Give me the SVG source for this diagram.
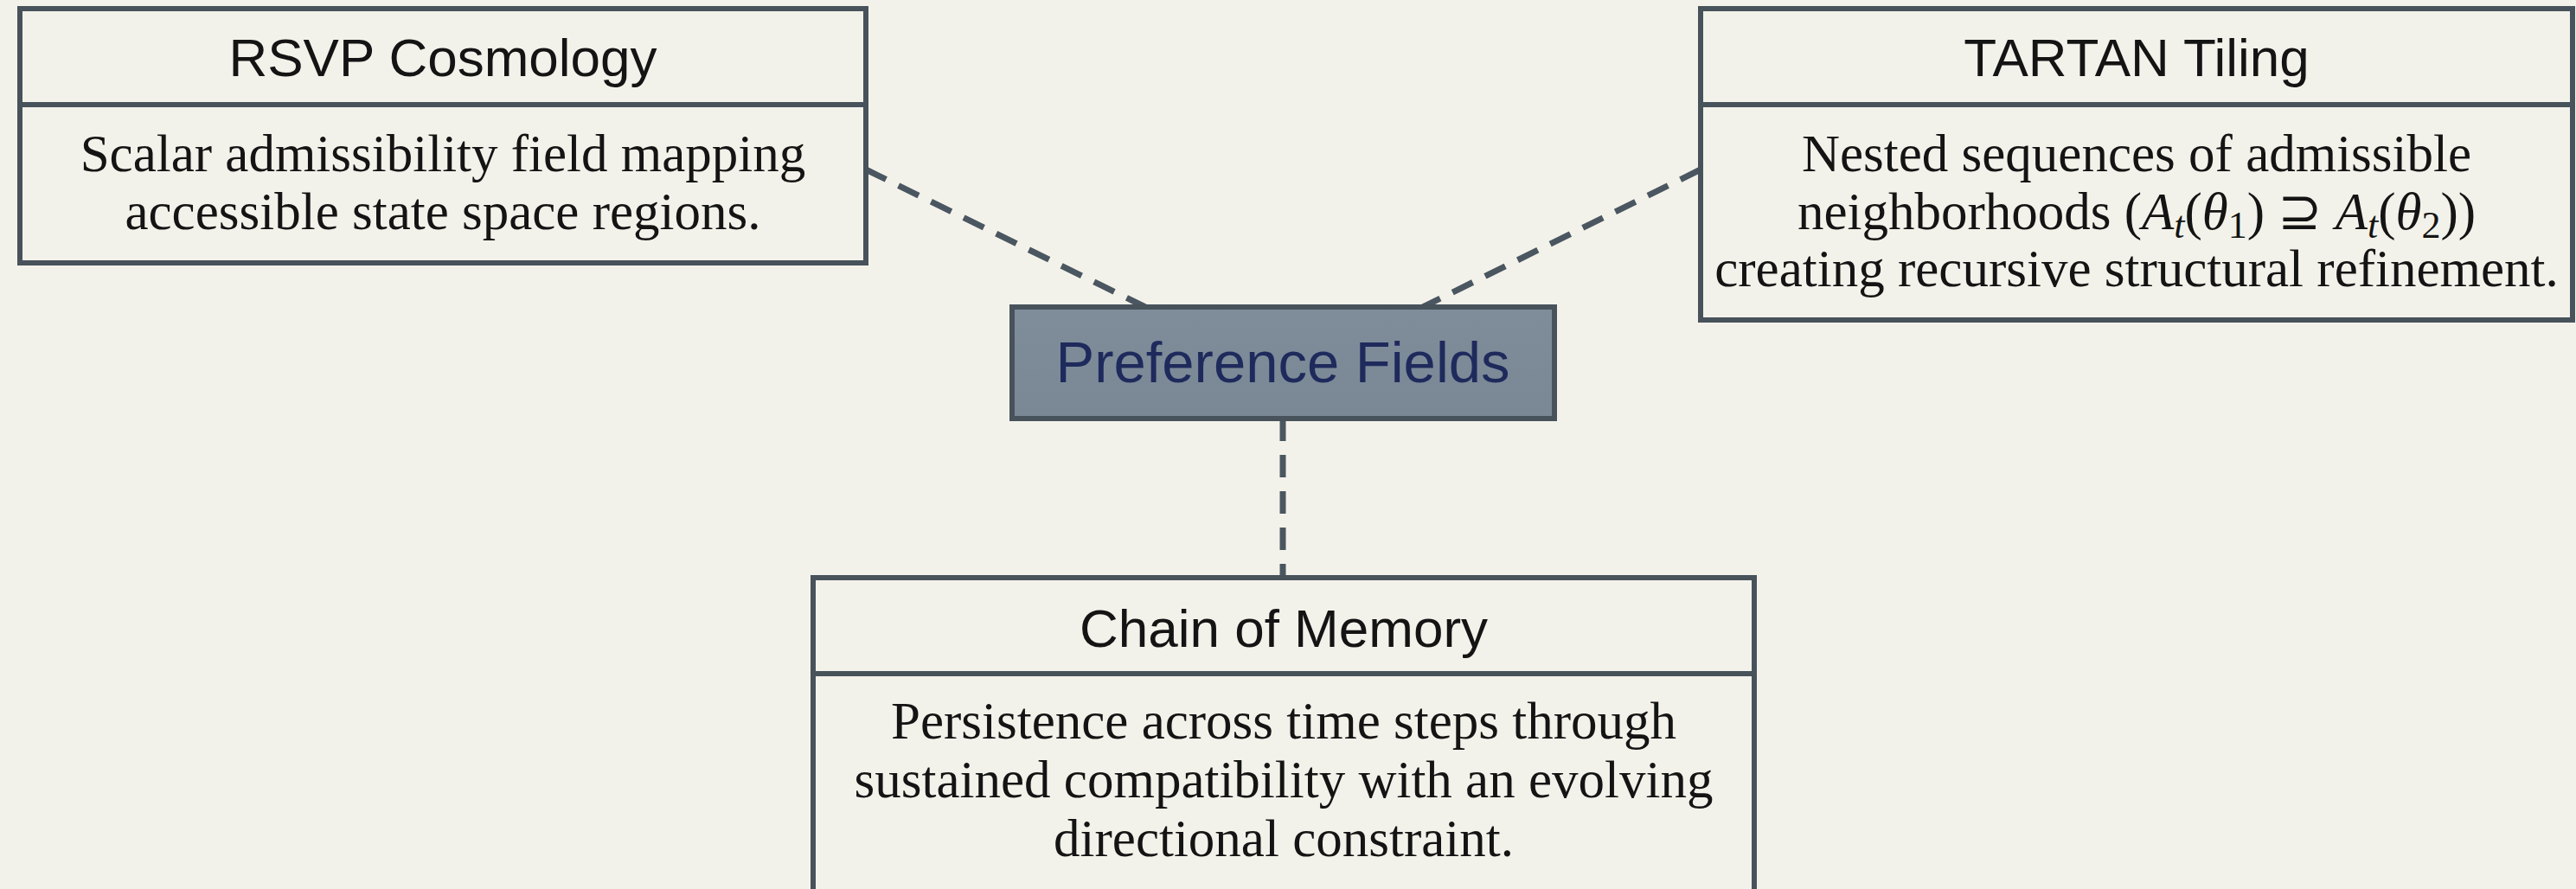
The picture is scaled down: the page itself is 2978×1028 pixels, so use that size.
<svg xmlns="http://www.w3.org/2000/svg" width="2978" height="1028" viewBox="0 0 2978 1028">
<defs>
<style>
.box{fill:#f3f2ea;stroke:#47525b;stroke-width:6}
.div{stroke:#47525b;stroke-width:6}
.title{font-family:"Liberation Sans",Arial,sans-serif;font-size:62px;fill:#141414;text-anchor:middle}
.body{font-family:"Liberation Serif","Times New Roman",serif;font-size:61px;fill:#141414;text-anchor:middle}
.conn{stroke:#4a5660;stroke-width:7;stroke-dasharray:26 16;fill:none}
</style>
<linearGradient id="cg" x1="0" y1="0" x2="0" y2="1">
<stop offset="0" stop-color="#7f8d9b"/>
<stop offset="1" stop-color="#7a8896"/>
</linearGradient>
</defs>
<rect x="0" y="0" width="2978" height="1028" fill="#f3f2ea"/>
<g id="connectors">
<line class="conn" x1="1001" y1="196" x2="1324" y2="355"/>
<line class="conn" x1="1966" y1="196" x2="1645" y2="355"/>
<line class="conn" x1="1483" y1="484" x2="1483" y2="668"/>
</g>
<g id="rsvp">
<rect class="box" x="23" y="10" width="978" height="294"/>
<line class="div" x1="23" y1="121" x2="1001" y2="121"/>
<text class="title" x="512" y="88">RSVP Cosmology</text>
<text class="body" x="512" y="198">Scalar admissibility field mapping</text>
<text class="body" x="512" y="265">accessible state space regions.</text>
</g>
<g id="tartan">
<rect class="box" x="1966" y="10" width="1008" height="360"/>
<line class="div" x1="1966" y1="121" x2="2974" y2="121"/>
<text class="title" x="2470" y="88">TARTAN Tiling</text>
<text class="body" x="2470" y="198">Nested sequences of admissible</text>
<text class="body" x="2470" y="265">neighborhoods (<tspan font-style="italic">A</tspan><tspan font-style="italic" font-size="44" dy="10">t</tspan><tspan dy="-10">(</tspan><tspan font-style="italic">θ</tspan><tspan font-size="44" dy="10">1</tspan><tspan dy="-10">) ⊇ </tspan><tspan font-style="italic">A</tspan><tspan font-style="italic" font-size="44" dy="10">t</tspan><tspan dy="-10">(</tspan><tspan font-style="italic">θ</tspan><tspan font-size="44" dy="10">2</tspan><tspan dy="-10">))</tspan></text>
<text class="body" x="2470" y="331">creating recursive structural refinement.</text>
</g>
<g id="preference">
<rect x="1170" y="355" width="627" height="129" fill="url(#cg)" stroke="#47525b" stroke-width="6"/>
<text x="1483" y="442" font-family="Liberation Sans,Arial,sans-serif" font-size="67" fill="#1f2a5c" text-anchor="middle">Preference Fields</text>
</g>
<g id="chain">
<rect class="box" x="940" y="668" width="1088" height="380"/>
<line class="div" x1="940" y1="779" x2="2028" y2="779"/>
<text class="title" x="1484" y="748">Chain of Memory</text>
<text class="body" x="1484" y="854">Persistence across time steps through</text>
<text class="body" x="1484" y="922">sustained compatibility with an evolving</text>
<text class="body" x="1484" y="990">directional constraint.</text>
</g>
</svg>
